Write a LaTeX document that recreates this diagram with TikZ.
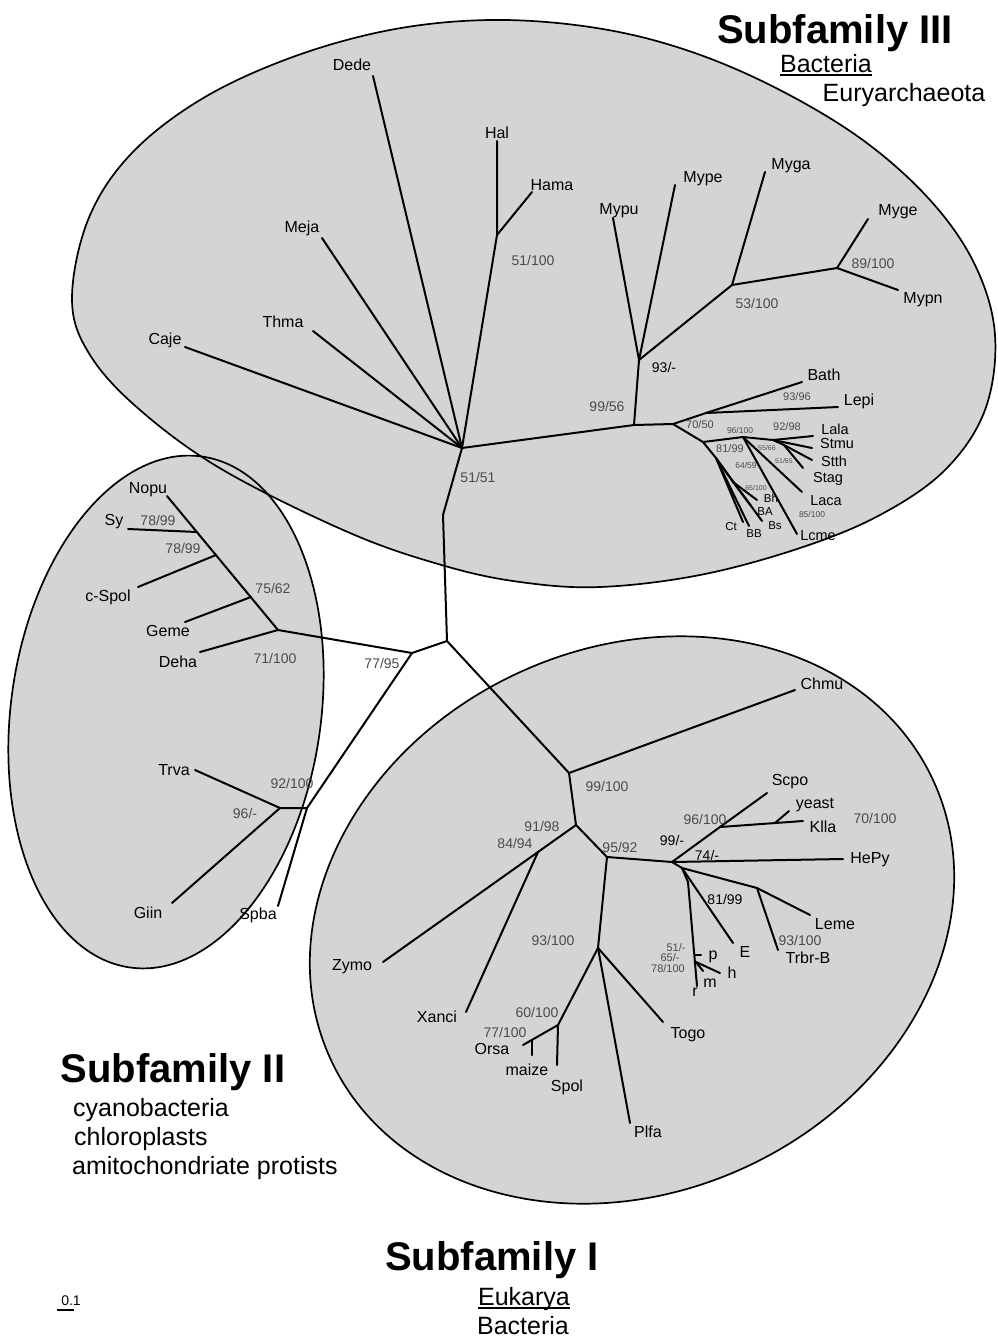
\documentclass[tikz,border=0pt]{standalone}
\usepackage{fontspec}
\setmainfont{Liberation Sans}
\definecolor{grayfill}{RGB}{212,212,212}
\definecolor{bsg}{RGB}{75,75,75}
\begin{document}
\begin{tikzpicture}[x=1pt,y=-1pt,
  br/.style={line width=2pt, line cap=round, line join=round},
  outl/.style={line width=1.7pt},
  tx/.style={font=\fontsize{16}{16}\selectfont, inner sep=0pt},
  txm/.style={font=\fontsize{14.5}{14.5}\selectfont, inner sep=0pt},
  txs/.style={font=\fontsize{11.5}{11.5}\selectfont, inner sep=0pt},
  bv/.style={font=\fontsize{14}{14}\selectfont, text=bsg, inner sep=0pt},
  bk/.style={font=\fontsize{14}{14}\selectfont, text=black, inner sep=0pt},
  bsm/.style={font=\fontsize{11}{11}\selectfont, text=bsg, inner sep=0pt},
  bxs/.style={font=\fontsize{8.5}{8.5}\selectfont, text=bsg, inner sep=0pt},
  bxxs/.style={font=\fontsize{7}{7}\selectfont, text=bsg, inner sep=0pt},
  big/.style={font=\fontsize{40}{40}\selectfont\bfseries, inner sep=0pt, anchor=base},
  subt/.style={font=\fontsize{25}{25}\selectfont, inner sep=0pt},
]
\useasboundingbox (0,0) rectangle (997,1339);

% ---------- shaded regions ----------
\fill[grayfill] plot[smooth cycle, tension=0.6] coordinates {(72,300) (88,220) (130,155) (200,100) (290,58) (390,30) (490,20) (590,27) (680,48) (770,85) (860,138) (930,200) (975,265) (995,335) (985,410) (945,470) (880,515) (800,548) (700,575) (600,587) (520,582) (445,566) (350,533) (223,470) (140,410) (90,355)};
\fill[grayfill, rotate around={-8:(166,712)}] (166,712) ellipse [x radius=155, y radius=258];
\fill[grayfill, rotate around={25:(632,920)}] (632,920) ellipse [x radius=332, y radius=272];
\draw[outl] plot[smooth cycle, tension=0.6] coordinates {(72,300) (88,220) (130,155) (200,100) (290,58) (390,30) (490,20) (590,27) (680,48) (770,85) (860,138) (930,200) (975,265) (995,335) (985,410) (945,470) (880,515) (800,548) (700,575) (600,587) (520,582) (445,566) (350,533) (223,470) (140,410) (90,355)};
\draw[outl, rotate around={-8:(166,712)}] (166,712) ellipse [x radius=155, y radius=258];
\draw[outl, rotate around={25:(632,920)}] (632,920) ellipse [x radius=332, y radius=272];

% ---------- coordinates: Subfamily III ----------
\coordinate (c3) at (462,448);
\coordinate (caje) at (185,347);
\coordinate (thma) at (313,331);
\coordinate (meja) at (322,238);
\coordinate (dede) at (373,76);
\coordinate (hal) at (497,141);
\coordinate (hn) at (497,235);
\coordinate (hama) at (532,192);
\coordinate (n1) at (634,425);
\coordinate (mn) at (639,360);
\coordinate (mypu) at (613,218);
\coordinate (mype) at (675,185);
\coordinate (m2) at (732,285);
\coordinate (myga) at (765,172);
\coordinate (m3) at (837,268);
\coordinate (myge) at (868,219);
\coordinate (mypn) at (898,290);
\coordinate (ln) at (673,424);
\coordinate (bl) at (706,413);
\coordinate (bath) at (802,382);
\coordinate (lepi) at (838,407);
\coordinate (lb) at (703,442);
\coordinate (lc) at (743,437);
\coordinate (ld) at (773,440);
\coordinate (lala) at (813,436);
\coordinate (stmu) at (812,448);
\coordinate (le) at (784,445);
\coordinate (stth) at (812,460);
\coordinate (stag) at (803,468);
\coordinate (laca) at (802,492);
\coordinate (lcme) at (797,534);
\coordinate (lf) at (716,458);
\coordinate (lg) at (733,482);
\coordinate (bh) at (757,500);
\coordinate (ba) at (751,506);
\coordinate (bs) at (762,521);
\coordinate (ct) at (743,522);
\coordinate (bb) at (749,526);

% ---------- coordinates: root and Subfamily II ----------
\coordinate (kink) at (443,515);
\coordinate (root) at (447,641);
\coordinate (n77) at (412,653);
\coordinate (c2) at (278,630);
\coordinate (nopu) at (167,496);
\coordinate (syn) at (197,532);
\coordinate (sy) at (128,529);
\coordinate (csn) at (216,555);
\coordinate (cspol) at (138,587);
\coordinate (gmn) at (251,597);
\coordinate (geme) at (185,622);
\coordinate (deha) at (200,652);
\coordinate (n92) at (307,808);
\coordinate (kn) at (280,808);
\coordinate (trva) at (195,770);
\coordinate (giin) at (172,903);
\coordinate (spba) at (278,906);

% ---------- coordinates: Subfamily I ----------
\coordinate (i1) at (569,773);
\coordinate (chmu) at (795,690);
\coordinate (i2) at (576,825);
\coordinate (i3) at (538,852);
\coordinate (zymo) at (383,962);
\coordinate (xanci) at (466,1012);
\coordinate (i4) at (607,857);
\coordinate (i5) at (672,862);
\coordinate (i6) at (720,827);
\coordinate (scpo) at (767,793);
\coordinate (yk) at (775,823);
\coordinate (klla) at (803,821);
\coordinate (yeast) at (789,811);
\coordinate (hepy) at (843,859);
\coordinate (i7) at (682,868);
\coordinate (lmn) at (757,888);
\coordinate (leme) at (810,915);
\coordinate (trbr) at (778,950);
\coordinate (etip) at (733,943);
\coordinate (i8) at (688,882);
\coordinate (rtip) at (697,986);
\coordinate (pn) at (695,955);
\coordinate (ptip) at (701,955);
\coordinate (hn2) at (696,962);
\coordinate (htip) at (720,973);
\coordinate (mtip) at (703,971);
\coordinate (i9) at (598,948);
\coordinate (n60) at (558,1025);
\coordinate (spol) at (557,1065);
\coordinate (n77b) at (532,1040);
\coordinate (orsa) at (523,1045);
\coordinate (maize) at (532,1055);
\coordinate (plfa) at (630,1123);
\coordinate (togo) at (663,1022);

% ---------- branches ----------
\draw[br] (caje) -- (c3);
\draw[br] (thma) -- (c3);
\draw[br] (meja) -- (c3);
\draw[br] (dede) -- (c3);
\draw[br] (hal) -- (hn) -- (c3);
\draw[br] (hn) -- (hama);
\draw[br] (c3) -- (n1) -- (ln);
\draw[br] (n1) -- (mn);
\draw[br] (mn) -- (mypu);
\draw[br] (mn) -- (mype);
\draw[br] (mn) -- (m2) -- (m3);
\draw[br] (m2) -- (myga);
\draw[br] (m3) -- (myge);
\draw[br] (m3) -- (mypn);
\draw[br] (ln) -- (bl);
\draw[br] (bl) -- (bath);
\draw[br] (bl) -- (lepi);
\draw[br] (ln) -- (lb) -- (lc) -- (ld) -- (lala);
\draw[br] (ld) -- (stmu);
\draw[br] (ld) -- (le);
\draw[br] (le) -- (stth);
\draw[br] (le) -- (stag);
\draw[br] (lc) -- (laca);
\draw[br] (lc) -- (lcme);
\draw[br] (lb) -- (lf);
\draw[br] (lf) -- (ct);
\draw[br] (lf) -- (bb);
\draw[br] (lf) -- (lg);
\draw[br] (lg) -- (bh);
\draw[br] (lg) -- (ba);
\draw[br] (lf) -- (bs);

\draw[br] (c3) -- (kink) -- (root);
\draw[br] (root) -- (n77) -- (c2);
\draw[br] (nopu) -- (c2);
\draw[br] (syn) -- (sy);
\draw[br] (csn) -- (cspol);
\draw[br] (gmn) -- (geme);
\draw[br] (c2) -- (deha);
\draw[br] (n77) -- (n92) -- (kn);
\draw[br] (kn) -- (trva);
\draw[br] (kn) -- (giin);
\draw[br] (n92) -- (spba);

\draw[br] (root) -- (i1) -- (chmu);
\draw[br] (i1) -- (i2) -- (i3) -- (zymo);
\draw[br] (i3) -- (xanci);
\draw[br] (i2) -- (i4) -- (i5) -- (i6) -- (scpo);
\draw[br] (i6) -- (klla);
\draw[br] (yk) -- (yeast);
\draw[br] (i5) -- (hepy);
\draw[br] (i5) -- (i7) -- (lmn) -- (leme);
\draw[br] (lmn) -- (trbr);
\draw[br] (i7) -- (etip);
\draw[br] (i7) -- (i8) -- (rtip);
\draw[br] (pn) -- (ptip);
\draw[br] (hn2) -- (htip);
\draw[br] (hn2) -- (mtip);
\draw[br] (i4) -- (i9) -- (n60) -- (orsa);
\draw[br] (n60) -- (spol);
\draw[br] (n77b) -- (maize);
\draw[br] (i9) -- (plfa);
\draw[br] (i9) -- (togo);

% ---------- taxon labels: III ----------
\node[tx] (tCaje) at (165,340) {Caje};
\node[tx] (tThma) at (283,322) {Thma};
\node[tx] (tMeja) at (302,228) {Meja};
\node[tx] (tDede) at (352,65) {Dede};
\node[tx] (tHal) at (497,133) {Hal};
\node[tx] (tHama) at (552,185) {Hama};
\node[tx] (tMypu) at (619,211) {Mypu};
\node[tx] (tMype) at (703,179) {Mype};
\node[tx] (tMyga) at (791,166) {Myga};
\node[tx] (tMyge) at (898,212) {Myge};
\node[tx] (tMypn) at (923,300) {Mypn};
\node[tx] (tBath) at (824,375) {Bath};
\node[tx] (tLepi) at (859,401) {Lepi};
\node[txm] (tLala) at (835,429) {Lala};
\node[txm] (tStmu) at (837,444) {Stmu};
\node[txm] (tStth) at (834,461) {Stth};
\node[txm] (tStag) at (828,479) {Stag};
\node[txm] (tLaca) at (826,501) {Laca};
\node[txm] (tLcme) at (818,536) {Lcme};
\node[txs] (tBh) at (771,498) {Bh};
\node[txs] (tBA) at (765,512) {BA};
\node[txs] (tBs) at (775,526) {Bs};
\node[txs] (tCt) at (731,527) {Ct};
\node[txs] (tBB) at (754,534) {BB};

% ---------- bootstrap labels: III ----------
\node[bv] (b5151) at (478,477) {51/51};
\node[bv] (b51100) at (533,260) {51/100};
\node[bv] (b9956) at (607,406) {99/56};
\node[bk] (b93) at (664,367) {93/-};
\node[bv] (b53100) at (757,303) {53/100};
\node[bv] (b89100) at (873,263) {89/100};
\node[bsm] (b7050) at (700,425) {70/50};
\node[bsm] (b9396) at (797,397) {93/96};
\node[bsm] (b9298) at (787,427) {92/98};
\node[bxs] (b96100) at (740,430) {96/100};
\node[bsm] (b8199a) at (730,449) {81/99};
\node[bxxs] (b5566) at (767,448) {55/66};
\node[bxxs] (b5165) at (784,461) {51/65};
\node[bxs] (b6459) at (746,465) {64/59};
\node[bxxs] (b65100) at (756,488) {65/100};
\node[bxs] (b85100) at (812,514) {85/100};

% ---------- Subfamily II labels ----------
\node[tx] (tNopu) at (148,490) {Nopu};
\node[tx] (tSy) at (114,522) {Sy};
\node[tx] (tcSpol) at (108,597) {c-Spol};
\node[tx] (tGeme) at (168,631) {Geme};
\node[tx] (tDeha) at (178,662) {Deha};
\node[tx] (tTrva) at (174,770) {Trva};
\node[tx] (tGiin) at (148,913) {Giin};
\node[tx] (tSpba) at (258,915) {Spba};
\node[bv] (b7899a) at (158,520) {78/99};
\node[bv] (b7899b) at (183,548) {78/99};
\node[bv] (b7562) at (273,588) {75/62};
\node[bv] (b71100) at (275,658) {71/100};
\node[bv] (b7795) at (382,663) {77/95};
\node[bv] (b92100) at (292,783) {92/100};
\node[bv] (b96) at (245,813) {96/-};

% ---------- Subfamily I labels ----------
\node[tx] (tChmu) at (822,684) {Chmu};
\node[tx] (tScpo) at (790,782) {Scpo};
\node[tx] (tyeast) at (815,805) {yeast};
\node[tx] (tKlla) at (823,827) {Klla};
\node[tx] (tHePy) at (870,860) {HePy};
\node[tx] (tLeme) at (835,924) {Leme};
\node[tx] (tTrbr) at (808,958) {Trbr-B};
\node[tx] (tE) at (745,952) {E};
\node[tx] (tp) at (713,957) {p};
\node[tx] (th) at (732,973) {h};
\node[tx] (tm) at (710,983) {m};
\node[tx] (tr) at (695,992) {r};
\node[tx] (tZymo) at (352,967) {Zymo};
\node[tx] (tXanci) at (437,1017) {Xanci};
\node[tx] (tOrsa) at (492,1049) {Orsa};
\node[tx] (tmaize) at (527,1070) {maize};
\node[tx] (tSpol) at (567,1087) {Spol};
\node[tx] (tTogo) at (688,1035) {Togo};
\node[tx] (tPlfa) at (648,1132) {Plfa};
\node[bv] (b99100) at (607,786) {99/100};
\node[bv] (b9198) at (542,826) {91/98};
\node[bv] (b8494) at (515,843) {84/94};
\node[bv] (b9592) at (620,847) {95/92};
\node[bk] (b99) at (672,840) {99/-};
\node[bv] (b96100b) at (705,819) {96/100};
\node[bv] (b70100) at (875,818) {70/100};
\node[bk] (b74) at (707,855) {74/-};
\node[bk] (b8199b) at (725,899) {81/99};
\node[bv] (b93100a) at (800,940) {93/100};
\node[bsm] (b51) at (676,948) {51/-};
\node[bsm] (b65) at (670,958) {65/-};
\node[bsm] (b78100) at (668,969) {78/100};
\node[bv] (b93100b) at (553,940) {93/100};
\node[bv] (b60100) at (537,1012) {60/100};
\node[bv] (b77100) at (505,1032) {77/100};

% ---------- titles ----------
\node[big] (s3) at (835,43) {Subfamily III};
\node[subt, anchor=base] (s3a) at (826,72) {Bacteria};
\draw[line width=1.2pt] ([yshift=-3pt]s3a.base west) -- ([yshift=-3pt]s3a.base east);
\node[subt, anchor=base] (s3b) at (904,101) {Euryarchaeota};

\node[big] (s2) at (173,1082) {Subfamily II};
\node[subt, anchor=base west] (s2a) at (73,1116) {cyanobacteria};
\node[subt, anchor=base west] (s2b) at (74,1145) {chloroplasts};
\node[subt, anchor=base west] (s2c) at (72,1174) {amitochondriate protists};

\node[big] (s1) at (492,1270) {Subfamily I};
\node[subt, anchor=base] (s1a) at (524,1305) {Eukarya};
\draw[line width=1.2pt] ([yshift=-3pt]s1a.base west) -- ([yshift=-3pt]s1a.base east);
\node[subt, anchor=base] (s1b) at (523,1334) {Bacteria};

% ---------- scale bar ----------
\coordinate (sb1) at (57,1310);
\coordinate (sb2) at (74,1310);
\draw[line width=1.2pt] (sb1) -- (sb2);
\node[font=\fontsize{14}{14}\selectfont, inner sep=0pt] (sbt) at (71,1301) {0.1};
\end{tikzpicture}
\end{document}
